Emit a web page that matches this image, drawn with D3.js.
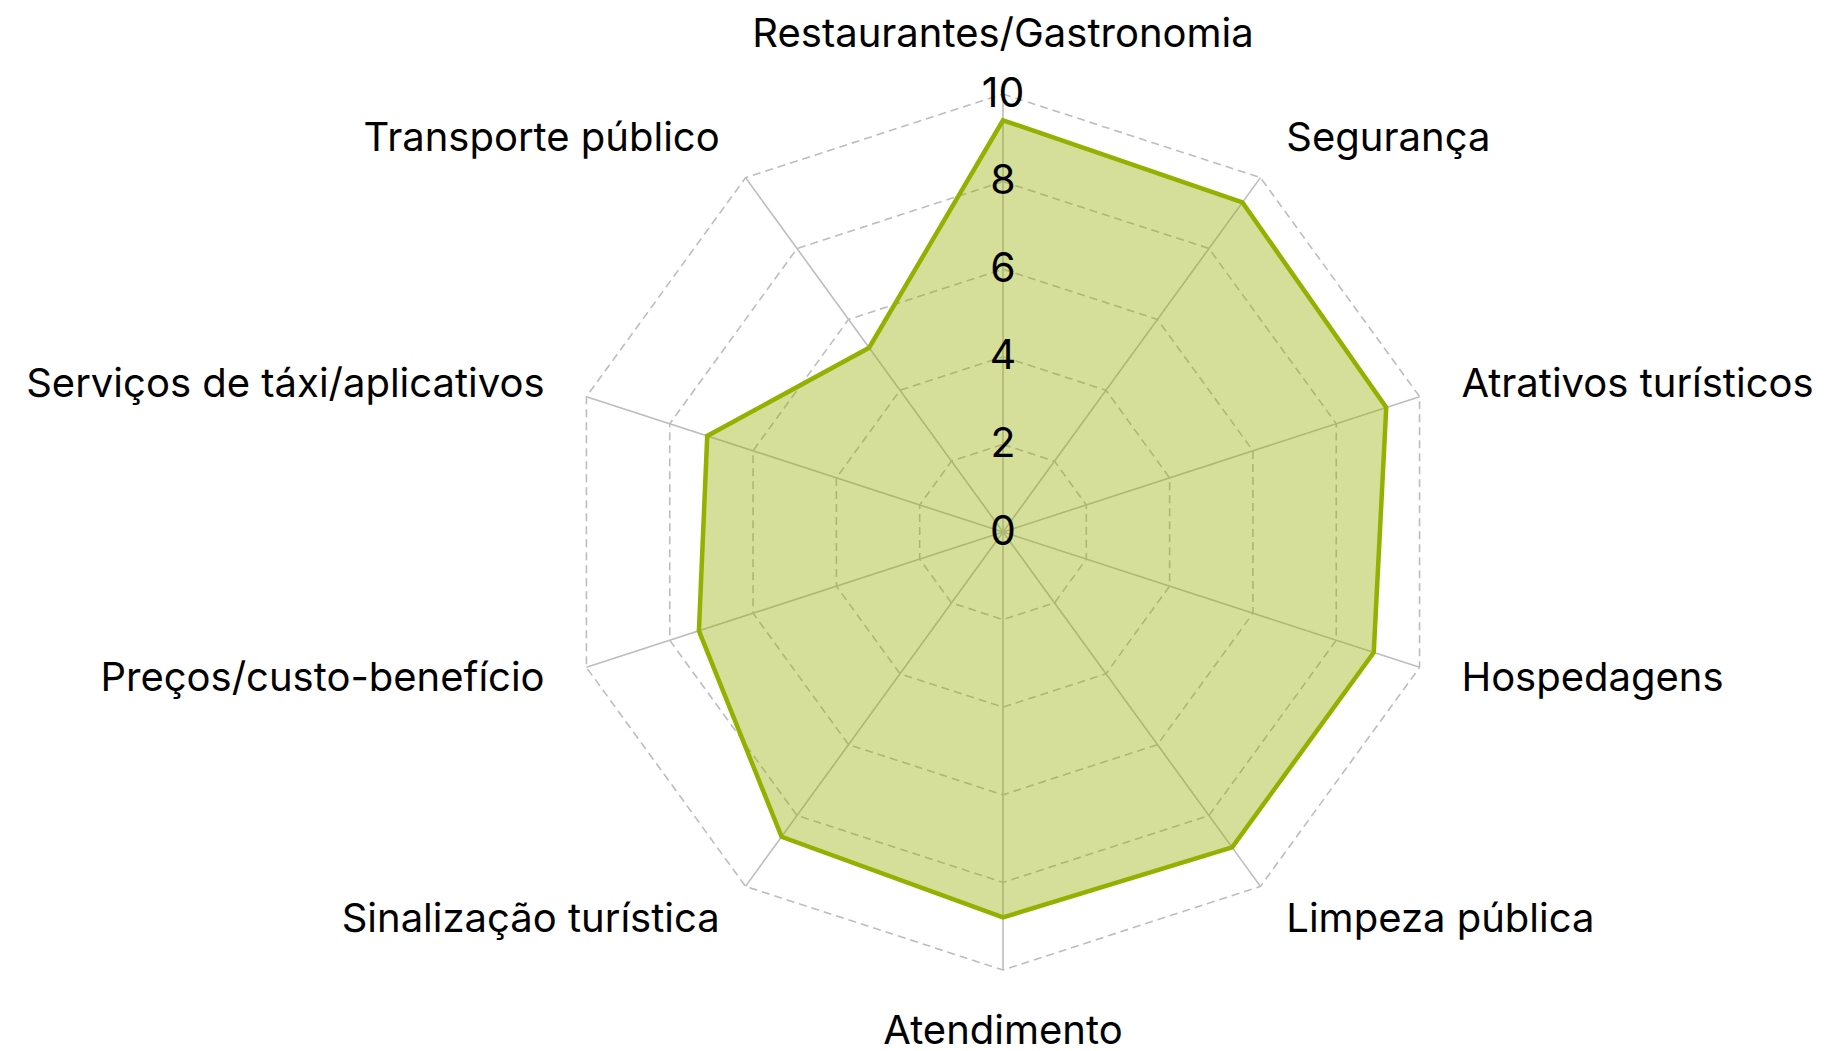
<!DOCTYPE html>
<meta charset="utf-8">
<script src="https://d3js.org/d3.v7.min.js"></script>
<div id="radar"></div>
<style>
  body { margin: 0; background: #fff; }
  text { font-family: Inter, "Noto Sans", sans-serif; fill: #000; }
</style>
<script>
  // categories, clockwise from the top
  var categories = ["Restaurantes/Gastronomia", "Segurança", "Atrativos turísticos", "Hospedagens",
    "Limpeza pública", "Atendimento", "Sinalização turística", "Preços/custo-benefício",
    "Serviços de táxi/aplicativos", "Transporte público"];
  var values = [9.4, 9.3, 9.2, 8.9, 8.9, 8.8, 8.6, 7.3, 7.1, 5.2];
  var ticks = [0, 2, 4, 6, 8, 10];

  var width = 1837, height = 1051,
      cx = 1003, cy = 532, radius = 438;

  var svg = d3.select("#radar").append("svg")
      .attr("width", width)
      .attr("height", height);
  var g = svg.append("g")
      .attr("transform", "translate(" + cx + "," + cy + ")");

  var r = d3.scaleLinear().domain([0, 10]).range([0, radius]);
  var angle = d3.scaleLinear().domain([0, categories.length]).range([0, 2 * Math.PI]);

  var radial = d3.lineRadial()
      .angle(function(d, i) { return angle(i); })
      .radius(function(d) { return r(d); })
      .curve(d3.curveLinearClosed);

  // dashed rings
  g.selectAll(".ring")
    .data(ticks.slice(1))
    .enter().append("path")
      .attr("class", "ring")
      .attr("d", function(t) { return radial(categories.map(function() { return t; })); })
      .attr("fill", "none")
      .attr("stroke", "#bdbdbd")
      .attr("stroke-width", 1.6)
      .attr("stroke-dasharray", "8,5");

  // spokes
  g.selectAll(".spoke")
    .data(categories)
    .enter().append("line")
      .attr("class", "spoke")
      .attr("x1", 0).attr("y1", 0)
      .attr("x2", function(d, i) { return Math.sin(angle(i)) * r(10); })
      .attr("y2", function(d, i) { return -Math.cos(angle(i)) * r(10); })
      .attr("stroke", "#bdbdbd")
      .attr("stroke-width", 1.6);

  // data polygon
  g.append("path")
    .attr("d", radial(values))
    .attr("fill", "rgba(150,176,0,0.4)")
    .attr("stroke", "#94b000")
    .attr("stroke-width", 4.5)
    .attr("stroke-linejoin", "miter");

  // category labels
  var labelR = radius + 44;
  g.selectAll(".label")
    .data(categories)
    .enter().append("text")
      .attr("class", "label")
      .attr("x", function(d, i) { return Math.sin(angle(i)) * labelR; })
      .attr("y", function(d, i) {
        var c = Math.cos(angle(i));
        var off = c > 0.99 ? -18 : c < -0.99 ? 15 : c > 0.5 ? -5.5 : c > 0 ? -1 : c > -0.5 ? -4 : -4.5;
        return -c * labelR + off;
      })
      .attr("text-anchor", function(d, i) {
        var s = Math.sin(angle(i));
        return Math.abs(s) < 0.01 ? "middle" : (s > 0 ? "start" : "end");
      })
      .attr("dominant-baseline", "central")
      .style("font-size", "40px")
      .text(function(d) { return d; });

  // tick labels on the top axis
  g.selectAll(".tick")
    .data(ticks)
    .enter().append("text")
      .attr("class", "tick")
      .attr("x", 0)
      .attr("y", function(d) { return -r(d) - 2.5; })
      .attr("text-anchor", "middle")
      .attr("dominant-baseline", "central")
      .style("font-size", "41px")
      .text(function(d) { return d; });
</script>
